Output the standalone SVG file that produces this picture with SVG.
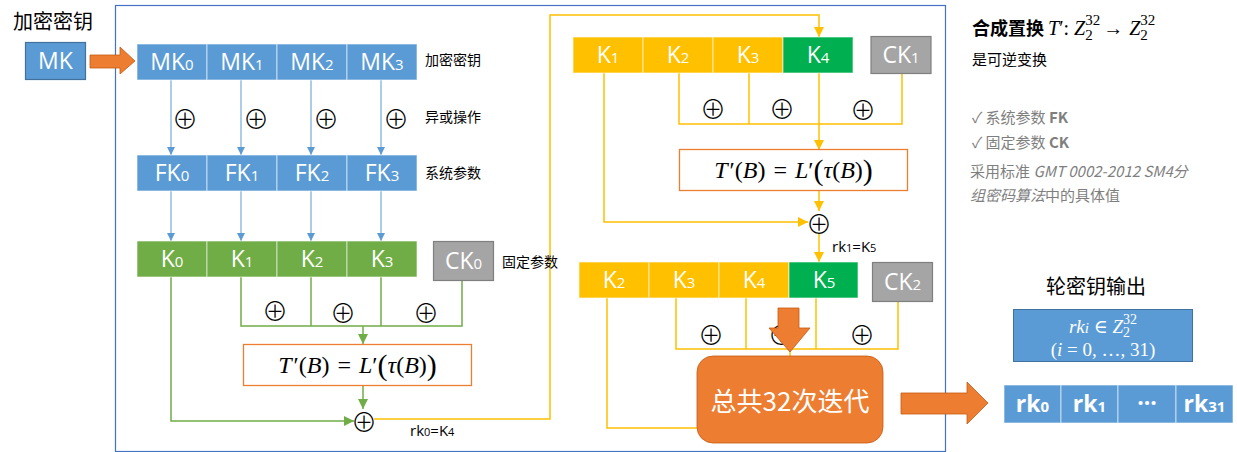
<svg xmlns="http://www.w3.org/2000/svg" width="1237" height="452" viewBox="0 0 1237 452">
<defs>
<style>
.cjk{font-family:"Noto Sans CJK SC",sans-serif}
.lbl{font-family:"Noto Sans CJK SC",sans-serif;font-size:14px;fill:#000}
.bt{font-family:"Open Sans","Noto Sans",sans-serif;font-size:23px;fill:#fff;text-anchor:middle}
.sub{font-size:15px}
.xor{font-family:"Noto Sans CJK SC",sans-serif;font-size:26px;font-weight:300;fill:#000;text-anchor:middle;dominant-baseline:central}
.blue{fill:#5B9BD5;stroke:#fff;stroke-opacity:.6;stroke-width:1}
.green{fill:#70AD47;stroke:#fff;stroke-opacity:.6;stroke-width:1}
.yel{fill:#FFC000;stroke:#fff;stroke-opacity:.6;stroke-width:1}
.dgreen{fill:#00B050;stroke:#fff;stroke-opacity:.6;stroke-width:1}
.gray{fill:#A5A5A5;stroke:#7F7F7F;stroke-width:1.2}
.tbox{fill:#fff;stroke:#ED7D31;stroke-width:1.3}
.mi{font-family:"Liberation Serif","DejaVu Serif",serif;font-style:italic}
.mr{font-family:"Liberation Serif","DejaVu Serif",serif}
.cb{stroke:#5B9BD5;stroke-width:1;fill:none}
.cg{stroke:#70AD47;stroke-width:1.5;fill:none}
.cy{stroke:#FFC000;stroke-width:1.5;fill:none}
.note{font-family:"Noto Sans CJK SC",sans-serif;font-size:15px;fill:#7F7F7F}
.orange{fill:#ED7D31;stroke:#C55A11;stroke-width:0.8}
.rk{font-family:"Open Sans","Noto Sans",sans-serif;font-size:15px;fill:#000}
</style>
<marker id="mb" viewBox="0 0 10 10" refX="10" refY="5" markerWidth="8" markerHeight="8" markerUnits="userSpaceOnUse" orient="auto"><path d="M0,0 L10,5 L0,10 z" fill="#5B9BD5"/></marker>
<marker id="mg" viewBox="0 0 10 10" refX="10" refY="5" markerWidth="10" markerHeight="10" markerUnits="userSpaceOnUse" orient="auto"><path d="M0,0 L10,5 L0,10 z" fill="#70AD47"/></marker>
<marker id="my" viewBox="0 0 10 10" refX="10" refY="5" markerWidth="10" markerHeight="10" markerUnits="userSpaceOnUse" orient="auto"><path d="M0,0 L10,5 L0,10 z" fill="#FFC000"/></marker>
</defs>
<rect width="1237" height="452" fill="#fff"/>

<rect id="frame" x="115.5" y="5.5" width="830" height="446" fill="none" stroke="#4472C4" stroke-width="1.2"/>

<g id="connectors">
<path class="cb" d="M171,80 V155" marker-end="url(#mb)"/>
<path class="cb" d="M241,80 V155" marker-end="url(#mb)"/>
<path class="cb" d="M311,80 V155" marker-end="url(#mb)"/>
<path class="cb" d="M381,80 V155" marker-end="url(#mb)"/>
<path class="cb" d="M171,191 V241" marker-end="url(#mb)"/>
<path class="cb" d="M241,191 V241" marker-end="url(#mb)"/>
<path class="cb" d="M311,191 V241" marker-end="url(#mb)"/>
<path class="cb" d="M381,191 V241" marker-end="url(#mb)"/>
<path class="cg" d="M171,277 V421 H354" marker-end="url(#mg)"/>
<path class="cg" d="M241,277 V326 H462 V281"/>
<path class="cg" d="M311,277 V326"/>
<path class="cg" d="M381,277 V326"/>
<path class="cg" d="M363,326 V344" marker-end="url(#mg)"/>
<path class="cg" d="M363,386 V409" marker-end="url(#mg)"/>
<path class="cy" d="M374,419 H550 V15 H819 V37" marker-end="url(#my)"/>
<path class="cy" d="M604,73 V222 H808" marker-end="url(#my)"/>
<path class="cy" d="M679,73 V124 H902 V74"/>
<path class="cy" d="M749,73 V124"/>
<path class="cy" d="M819,73 V124"/>
<path class="cy" d="M819,124 V150" marker-end="url(#my)"/>
<path class="cy" d="M819,191 V211" marker-end="url(#my)"/>
<path class="cy" d="M819,233 V262" marker-end="url(#my)"/>
<path class="cy" d="M607,298 V428 H697"/>
<path class="cy" d="M676,298 V349 H898 V302"/>
<path class="cy" d="M746,298 V349"/>
<path class="cy" d="M816,298 V349"/>
<path class="cy" d="M790,349 V356"/>
</g>

<text x="13" y="29" class="cjk" font-size="20" fill="#000">加密密钥</text>

<g id="mk">
<rect x="25.5" y="42.5" width="60" height="37" fill="#5B9BD5" stroke="#41719C" stroke-width="1.2"/>
<text x="55.5" y="69" class="bt">MK</text>
</g>
<polygon id="arrow-mk" class="orange" points="90,55 120,55 120,47 135,61 120,74 120,68 90,68"/>

<g id="mk-row">
<rect class="blue" x="137" y="44" width="70" height="36"/>
<rect class="blue" x="207" y="44" width="70" height="36"/>
<rect class="blue" x="277" y="44" width="70" height="36"/>
<rect class="blue" x="347" y="44" width="70" height="36"/>
<text x="172" y="70" class="bt">MK<tspan class="sub">0</tspan></text>
<text x="242" y="70" class="bt">MK<tspan class="sub">1</tspan></text>
<text x="312" y="70" class="bt">MK<tspan class="sub">2</tspan></text>
<text x="382" y="70" class="bt">MK<tspan class="sub">3</tspan></text>
</g>
<text x="425" y="65" class="lbl">加密密钥</text>

<g id="xor-row1">
<text x="185" y="117" class="xor">⊕</text>
<text x="256" y="117" class="xor">⊕</text>
<text x="326" y="117" class="xor">⊕</text>
<text x="396" y="117" class="xor">⊕</text>
</g>
<text x="425" y="122" class="lbl">异或操作</text>

<g id="fk-row">
<rect class="blue" x="137" y="155" width="70" height="36"/>
<rect class="blue" x="207" y="155" width="70" height="36"/>
<rect class="blue" x="277" y="155" width="70" height="36"/>
<rect class="blue" x="347" y="155" width="70" height="36"/>
<text x="172" y="181" class="bt">FK<tspan class="sub">0</tspan></text>
<text x="242" y="181" class="bt">FK<tspan class="sub">1</tspan></text>
<text x="312" y="181" class="bt">FK<tspan class="sub">2</tspan></text>
<text x="382" y="181" class="bt">FK<tspan class="sub">3</tspan></text>
</g>
<text x="425" y="178" class="lbl">系统参数</text>

<g id="k-row">
<rect class="green" x="137" y="241" width="70" height="36"/>
<rect class="green" x="207" y="241" width="70" height="36"/>
<rect class="green" x="277" y="241" width="70" height="36"/>
<rect class="green" x="347" y="241" width="70" height="36"/>
<text x="172" y="267" class="bt">K<tspan class="sub">0</tspan></text>
<text x="242" y="267" class="bt">K<tspan class="sub">1</tspan></text>
<text x="312" y="267" class="bt">K<tspan class="sub">2</tspan></text>
<text x="382" y="267" class="bt">K<tspan class="sub">3</tspan></text>
</g>
<g id="ck0">
<rect class="gray" x="433.5" y="241.5" width="60" height="39"/>
<text x="463.5" y="269" class="bt">CK<tspan class="sub">0</tspan></text>
</g>
<text x="502" y="267" class="lbl">固定参数</text>

<g id="xor-row2">
<text x="275" y="309" class="xor">⊕</text>
<text x="343" y="311" class="xor">⊕</text>
<text x="426" y="311" class="xor">⊕</text>
</g>

<g id="t1">
<rect class="tbox" x="243.5" y="344.5" width="228" height="41"/>
<text x="357.5" y="373" font-size="24" text-anchor="middle"><tspan class="mi">T</tspan><tspan class="mr" dx="2">′(</tspan><tspan class="mi">B</tspan><tspan class="mr">)</tspan><tspan class="mr" dx="8">=</tspan><tspan class="mi" dx="8">L</tspan><tspan class="mr">′</tspan><tspan class="mr" font-size="30" dy="2">(</tspan><tspan class="mi" dy="-2">τ</tspan><tspan class="mr">(</tspan><tspan class="mi">B</tspan><tspan class="mr">)</tspan><tspan class="mr" font-size="30" dy="2">)</tspan></text>
</g>
<text id="x1" x="364" y="420" class="xor">⊕</text>
<text x="410" y="436" class="rk">rk<tspan font-size="11">0</tspan>=K<tspan font-size="11">4</tspan></text>

<g id="top-row">
<rect class="yel" x="573" y="37" width="70" height="36"/>
<rect class="yel" x="643" y="37" width="70" height="36"/>
<rect class="yel" x="713" y="37" width="70" height="36"/>
<rect class="dgreen" x="783" y="37" width="70" height="36"/>
<text x="608" y="63" class="bt">K<tspan class="sub">1</tspan></text>
<text x="678" y="63" class="bt">K<tspan class="sub">2</tspan></text>
<text x="748" y="63" class="bt">K<tspan class="sub">3</tspan></text>
<text x="818" y="63" class="bt">K<tspan class="sub">4</tspan></text>
</g>
<g id="ck1">
<rect class="gray" x="871" y="36.5" width="60" height="37"/>
<text x="901" y="63" class="bt">CK<tspan class="sub">1</tspan></text>
</g>
<g id="xor-row3">
<text x="713" y="107" class="xor">⊕</text>
<text x="782" y="107" class="xor">⊕</text>
<text x="863" y="108" class="xor">⊕</text>
</g>
<g id="t2">
<rect class="tbox" x="679.5" y="149.5" width="228" height="41"/>
<text x="793.5" y="178" font-size="24" text-anchor="middle"><tspan class="mi">T</tspan><tspan class="mr" dx="2">′(</tspan><tspan class="mi">B</tspan><tspan class="mr">)</tspan><tspan class="mr" dx="8">=</tspan><tspan class="mi" dx="8">L</tspan><tspan class="mr">′</tspan><tspan class="mr" font-size="30" dy="2">(</tspan><tspan class="mi" dy="-2">τ</tspan><tspan class="mr">(</tspan><tspan class="mi">B</tspan><tspan class="mr">)</tspan><tspan class="mr" font-size="30" dy="2">)</tspan></text>
</g>
<text id="x2" x="819" y="222" class="xor">⊕</text>
<text x="832" y="252" class="rk">rk<tspan font-size="11">1</tspan>=K<tspan font-size="11">5</tspan></text>

<g id="row2">
<rect class="yel" x="579" y="262" width="70" height="36"/>
<rect class="yel" x="649" y="262" width="70" height="36"/>
<rect class="yel" x="719" y="262" width="70" height="36"/>
<rect class="dgreen" x="789" y="262" width="69" height="36"/>
<text x="614" y="288" class="bt">K<tspan class="sub">2</tspan></text>
<text x="684" y="288" class="bt">K<tspan class="sub">3</tspan></text>
<text x="754" y="288" class="bt">K<tspan class="sub">4</tspan></text>
<text x="824" y="288" class="bt">K<tspan class="sub">5</tspan></text>
</g>
<g id="ck2">
<rect class="gray" x="872.5" y="262.5" width="60" height="39"/>
<text x="902.5" y="290" class="bt">CK<tspan class="sub">2</tspan></text>
</g>
<g id="xor-row4">
<text x="711" y="333" class="xor">⊕</text>
<text x="781" y="333" class="xor">⊕</text>
<text x="862" y="333" class="xor">⊕</text>
</g>
<polygon id="arrow-down" class="orange" points="778,308 799,308 799,328 810,328 790,352 769,328 778,328"/>

<g id="iter">
<rect x="697" y="356" width="186" height="87" rx="16" fill="#ED7D31" stroke="#C55A11" stroke-width="0.8"/>
<text x="790" y="411" class="cjk" font-size="26" fill="#fff" text-anchor="middle">总共32次迭代</text>
</g>
<polygon id="arrow-out" class="orange" points="901,393 967,393 967,382 988,403 967,424 967,414 901,414"/>

<text x="1096" y="294" class="cjk" font-size="20" fill="#000" text-anchor="middle">轮密钥输出</text>
<g id="rk-formula">
<rect x="1013.5" y="309.5" width="179" height="52" fill="#5B9BD5" stroke="#41719C" stroke-width="1"/>
<text x="1103" y="333" font-size="19" fill="#fff" text-anchor="middle"><tspan class="mi">rk</tspan><tspan class="mi" font-size="15">i</tspan><tspan class="mr"> ∈ </tspan><tspan class="mi">Z</tspan><tspan class="mr" font-size="14" dy="4">2</tspan><tspan class="mr" font-size="14" dx="-7" dy="-13">32</tspan></text>
<text x="1103" y="356" font-size="19" fill="#fff" text-anchor="middle"><tspan class="mr">(</tspan><tspan class="mi">i</tspan><tspan class="mr"> = 0, …, 31)</tspan></text>
</g>
<g id="rk-row">
<rect class="blue" x="1004" y="385" width="57" height="38"/>
<rect class="blue" x="1061" y="385" width="57" height="38"/>
<rect class="blue" x="1118" y="385" width="58" height="38"/>
<rect class="blue" x="1176" y="385" width="57" height="38"/>
<text x="1032.5" y="412" class="bt" font-weight="bold">rk<tspan class="sub">0</tspan></text>
<text x="1089.5" y="412" class="bt" font-weight="bold">rk<tspan class="sub">1</tspan></text>
<text x="1147" y="411" class="bt" font-weight="bold">···</text>
<text x="1204.5" y="412" class="bt" font-weight="bold">rk<tspan class="sub">31</tspan></text>
</g>

<g id="notes">
<text x="972" y="35" font-size="20" fill="#000"><tspan class="cjk" font-size="18" font-weight="bold">合成置换</tspan><tspan class="mi" dx="4">T</tspan><tspan class="mr">′: </tspan><tspan class="mi">Z</tspan><tspan class="mr" font-size="15" dy="5">2</tspan><tspan class="mr" font-size="15" dx="-7.5" dy="-15">32</tspan><tspan class="mr" dx="3" dy="10">→</tspan><tspan class="mi" dx="6">Z</tspan><tspan class="mr" font-size="15" dy="5">2</tspan><tspan class="mr" font-size="15" dx="-7.5" dy="-15">32</tspan></text>
<text x="972" y="65" class="cjk" font-size="15" fill="#000">是可逆变换</text>
<text x="972" y="123" class="note">✓ 系统参数 <tspan font-weight="bold">FK</tspan></text>
<text x="972" y="148" class="note">✓ 固定参数 <tspan font-weight="bold">CK</tspan></text>
<text x="970" y="177" class="note">采用标准 <tspan font-style="italic">GMT 0002-2012 SM4分</tspan></text>
<text x="970" y="201" class="note"><tspan font-style="italic">组密码算法</tspan>中的具体值</text>
</g>
</svg>
